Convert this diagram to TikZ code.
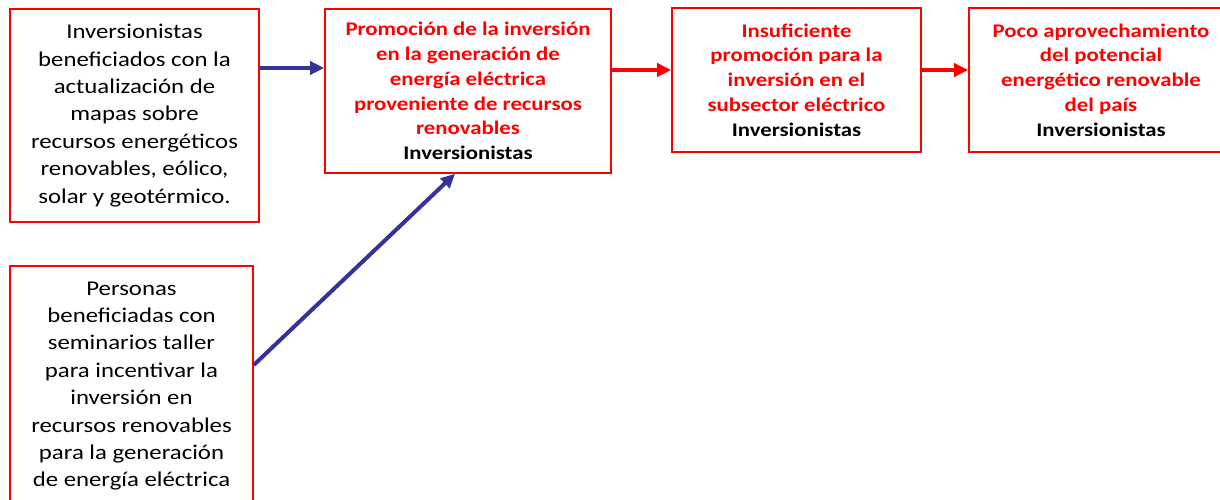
\documentclass[tikz,border=0pt]{standalone}
\usepackage{fontspec}
\setmainfont[FakeStretch=1.18]{Carlito}
\usetikzlibrary{arrows.meta}
\definecolor{boxred}{RGB}{255,0,0}
\definecolor{arrblue}{RGB}{51,51,153}
\begin{document}
\begin{tikzpicture}[x=1pt,y=-1pt,
  box/.style={draw=boxred, line width=1.6pt, align=center, inner sep=0pt},
  blk/.style={font=\fontsize{21}{27.4}\selectfont, text=black},
  redt/.style={font=\bfseries\fontsize{19.3}{24.8}\selectfont, text=boxred},
  bluearrow/.style={draw=arrblue, line width=4pt, -{Triangle[length=14pt,width=13pt]}},
  redarrow/.style={draw=boxred, line width=4pt, -{Triangle[length=14pt,width=13pt]}}]
\useasboundingbox (0,0) rectangle (1220,500);
\node[box, blk, minimum width=249pt, minimum height=213pt] (b1) at (134.5,115.5)
  {Inversionistas\\beneficiados con la\\actualización de\\mapas sobre\\recursos energéticos\\renovables, eólico,\\solar y geotérmico.};
\node[box, redt, minimum width=286pt, minimum height=164pt] (b2) at (468,91)
  {Promoción de la inversión\\en la generación de\\energía eléctrica\\proveniente de recursos\\renovables\\\textcolor{black}{Inversionistas}};
\node[box, redt, minimum width=249pt, minimum height=144pt] (b3) at (796.5,80)
  {Insuficiente\\promoción para la\\inversión en el\\subsector eléctrico\\\textcolor{black}{Inversionistas}};
\node[box, redt, minimum width=264pt, minimum height=144pt] (b4) at (1101,80)
  {Poco aprovechamiento\\del potencial\\energético renovable\\del país\\\textcolor{black}{Inversionistas}};
\node[box, blk, minimum width=243pt, minimum height=240pt] (b5) at (131.5,386)
  {Personas\\beneficiadas con\\seminarios taller\\para incentivar la\\inversión en\\recursos renovables\\para la generación\\de energía eléctrica};
\draw[bluearrow] ([yshift=47.5pt]b1.east) -- ([yshift=47.5pt]b1.east -| b2.west);
\draw[bluearrow] ([yshift=21pt]b5.east) -- ([xshift=-13pt]b2.south);
\draw[redarrow] ([yshift=21pt]b2.east) -- ([yshift=21pt]b2.east -| b3.west);
\draw[redarrow] ([yshift=10pt]b3.east) -- ([yshift=10pt]b3.east -| b4.west);
\end{tikzpicture}
\end{document}
